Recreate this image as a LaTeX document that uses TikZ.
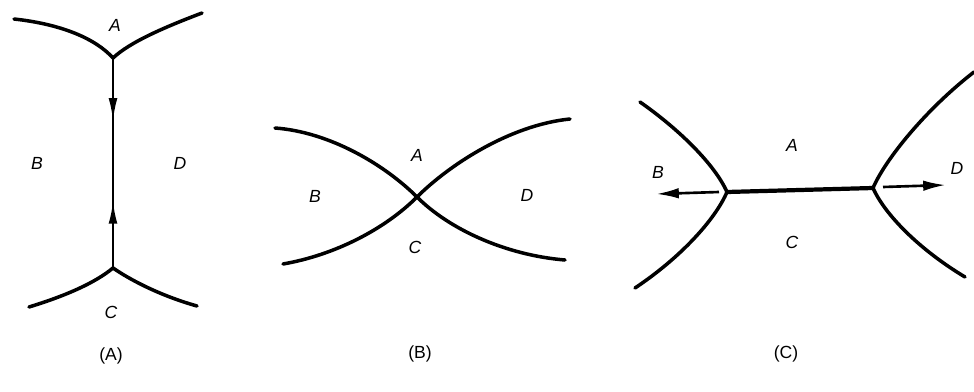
\documentclass[tikz,border=0pt]{standalone}
\usepackage{fontspec}
\setsansfont{Liberation Sans}
\usepackage{tikz}
\usetikzlibrary{arrows.meta, decorations.markings}

\begin{document}
\begin{tikzpicture}[
    x=0.02cm, y=-0.02cm,
    front/.style={line width=2pt, line cap=round},
    edge/.style={line width=1.3pt},
    arrow/.style={-{Latex[length=13pt, width=6pt]}, line width=1.5pt},
    region/.style={font=\sffamily\itshape, inner sep=1pt},
    caption/.style={font=\sffamily, inner sep=1pt}
]
\useasboundingbox (0,0) rectangle (974,392);

% === PANEL (A) ===
\coordinate (aTop) at (113,58);
\coordinate (aBot) at (113,268);
\draw[front] (14,19) .. controls (60,24) and (95,38) .. (aTop);
\draw[front] (aTop) .. controls (130,42) and (165,27) .. (202,13);
\draw[front] (29,307) .. controls (65,296) and (95,283) .. (aBot);
\draw[front] (aBot) .. controls (135,283) and (165,297) .. (197,306);
\draw[edge, postaction={decorate}, decoration={markings,
    mark=at position 0.30 with {\arrow{Latex[length=13pt, width=5pt]}},
    mark=at position 0.68 with {\arrowreversed{Latex[length=13pt, width=5pt]}}}]
    (aTop) -- (aBot);
\node[region] (aA) at (115,25) {A};
\node[region] (aB) at (37,163) {B};
\node[region] (aD) at (180,163) {D};
\node[region] (aC) at (111,312) {C};
\node[caption] (capA) at (111,356) {(A)};

% === PANEL (B) ===
\coordinate (bX) at (417,197);
\draw[front] (275,128) .. controls (330,132) and (385,165) .. (bX)
    .. controls (449,229) and (505,255) .. (565,260);
\draw[front] (283,264) .. controls (335,255) and (385,229) .. (bX)
    .. controls (449,165) and (510,125) .. (570,119);
\node[region] (bA) at (417,155) {A};
\node[region] (bB) at (315,196) {B};
\node[region] (bD) at (527,195) {D};
\node[region] (bC) at (415,247) {C};
\node[caption] (capB) at (420,354) {(B)};

% === PANEL (C) ===
\coordinate (cL) at (727,192);
\coordinate (cR) at (873,188);
\draw[front] (640,102) .. controls (680,130) and (715,165) .. (cL)
    .. controls (715,220) and (680,258) .. (635,288);
\draw[front] (974,72) .. controls (925,110) and (885,160) .. (cR)
    .. controls (885,215) and (920,250) .. (965,277);
\draw[front, line width=2.4pt] (cL) -- (cR);
\coordinate (cBtip) at (656,194);
\coordinate (cDtip) at (946,185);
\draw[arrow] (cL) ++(-8,0) -- (cBtip);
\draw[arrow] (cR) ++(10,-1) -- (cDtip);
\node[region] (cA) at (792,145) {A};
\node[region] (cB) at (658,172) {B};
\node[region] (cD) at (957,168) {D};
\node[region] (cC) at (792,242) {C};
\node[caption] (capC) at (786,354) {(C)};

\end{tikzpicture}
\end{document}
